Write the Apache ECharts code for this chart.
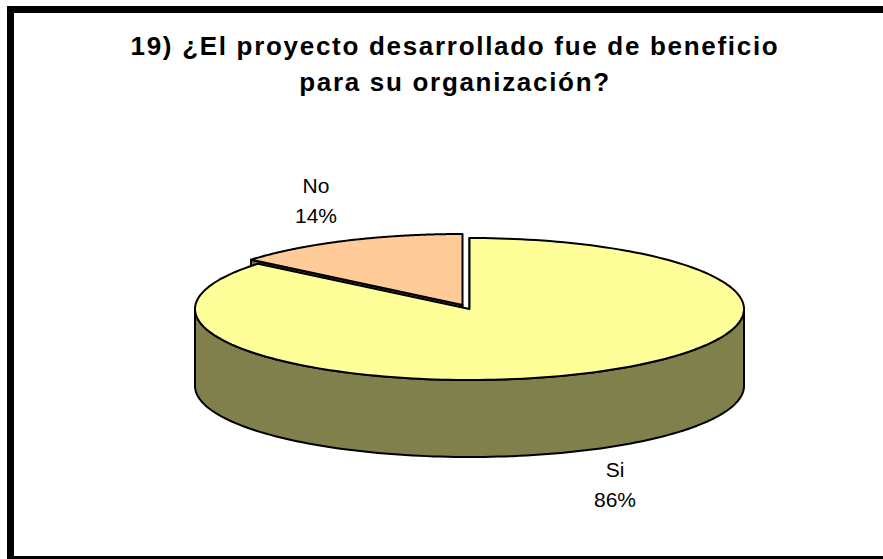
<!DOCTYPE html>
<html>
<head>
<meta charset="utf-8">
<style>
  html, body { margin: 0; padding: 0; background: #fff; overflow: hidden; }
  #main { width: 883px; height: 559px; }
  /* the title in the picture is spaced out, echarts has no option for that */
  #main text[style*="bold"] { letter-spacing: 1.7px; }
</style>
</head>
<body>
<div id="main"></div>
<script src="https://cdn.jsdelivr.net/npm/echarts@6/dist/echarts.min.js"></script>
<script>
var categories = ['Si', 'No'];
var shares = [86, 14];
var topColors = ['#FFFF99', '#FFCC99'];
var sideColors = ['#80804D', '#7F664C'];
var labelPos = [[615, 484], [316, 200]];
var drawOrder = [1, 0];   // "No" first so that "Si" sits on top of it

var chart = echarts.init(document.getElementById('main'), null, { renderer: 'svg' });

var DEPTH = 77 / 71;      // pie height, in y axis units
var OFFSETS = [[0, 0], [-7 / 274.5, 4 / 71]];  // only "No" is pulled out

function rim(a, off, drop) {
  return [off[0] + Math.sin(a), off[1] + Math.cos(a) - (drop || 0)];
}

function renderSlice(params, api) {
  var i = drawOrder[params.dataIndex];
  var total = shares[0] + shares[1];
  var before = 0;
  for (var k = 0; k < i; k++) before += shares[k];
  var start = before / total * 2 * Math.PI;
  var end = (before + shares[i]) / total * 2 * Math.PI;
  var off = OFFSETS[i];
  var line = { stroke: '#000', lineWidth: 2, lineJoin: 'round' };
  var kids = [];

  // cut face on the left, mostly hidden by the next slice
  var apex = [off[0], off[1]];
  kids.push({
    type: 'polygon',
    shape: { points: [
      api.coord(apex),
      api.coord(rim(start, off)),
      api.coord(rim(start, off, DEPTH)),
      api.coord([apex[0], apex[1] - DEPTH])
    ] },
    style: Object.assign({ fill: sideColors[i] }, line)
  });

  // front wall, only what faces the viewer (90deg to 270deg)
  var a0 = Math.max(start, Math.PI / 2), a1 = Math.min(end, Math.PI * 1.5);
  if (a1 > a0) {
    var upper = [], lower = [];
    for (var s = 0; s <= 120; s++) {
      var a = a0 + (a1 - a0) * s / 120;
      upper.push(api.coord(rim(a, off)));
      lower.unshift(api.coord(rim(a, off, DEPTH)));
    }
    kids.push({
      type: 'polygon',
      shape: { points: upper.concat(lower) },
      style: Object.assign({ fill: sideColors[i] }, line)
    });
  }

  // top face
  var pts = [api.coord(apex)];
  for (var t = 0; t <= 200; t++) {
    pts.push(api.coord(rim(start + (end - start) * t / 200, off)));
  }
  kids.push({
    type: 'polygon',
    shape: { points: pts },
    style: Object.assign({ fill: topColors[i] }, line)
  });

  kids.push({
    type: 'text',
    x: labelPos[i][0],
    y: labelPos[i][1],
    style: {
      text: categories[i] + '\n' + shares[i] + '%',
      fill: '#000',
      font: '21px "Liberation Sans"',
      lineHeight: 30,
      align: 'center',
      verticalAlign: 'middle'
    }
  });
  return { type: 'group', children: kids };
}

var option = {
  animation: false,
  backgroundColor: '#fff',
  title: {
    text: '19) ¿El proyecto desarrollado fue de beneficio\npara su organización?',
    left: 450,
    top: 23,
    textAlign: 'center',
    textStyle: {
      fontFamily: 'Liberation Sans',
      fontWeight: 'bold',
      fontSize: 26,
      lineHeight: 36,
      color: '#000'
    }
  },
  grid: { left: 195, width: 549, top: 238, height: 142 },
  xAxis: { type: 'value', min: -1, max: 1, show: false },
  yAxis: { type: 'value', min: -1, max: 1, show: false },
  graphic: [{
    type: 'rect',
    silent: true,
    z: -1,
    shape: { x: 10.5, y: 9.5, width: 890, height: 550 },
    style: { fill: '#fff', stroke: '#000', lineWidth: 7 }
  }],
  series: [{
    type: 'custom',
    coordinateSystem: 'cartesian2d',
    clip: false,
    renderItem: renderSlice,
    data: drawOrder.map(function (i) {
      return { value: [0, 0, shares[i]], name: categories[i] };
    })
  }]
};
chart.setOption(option);
</script>
</body>
</html>
